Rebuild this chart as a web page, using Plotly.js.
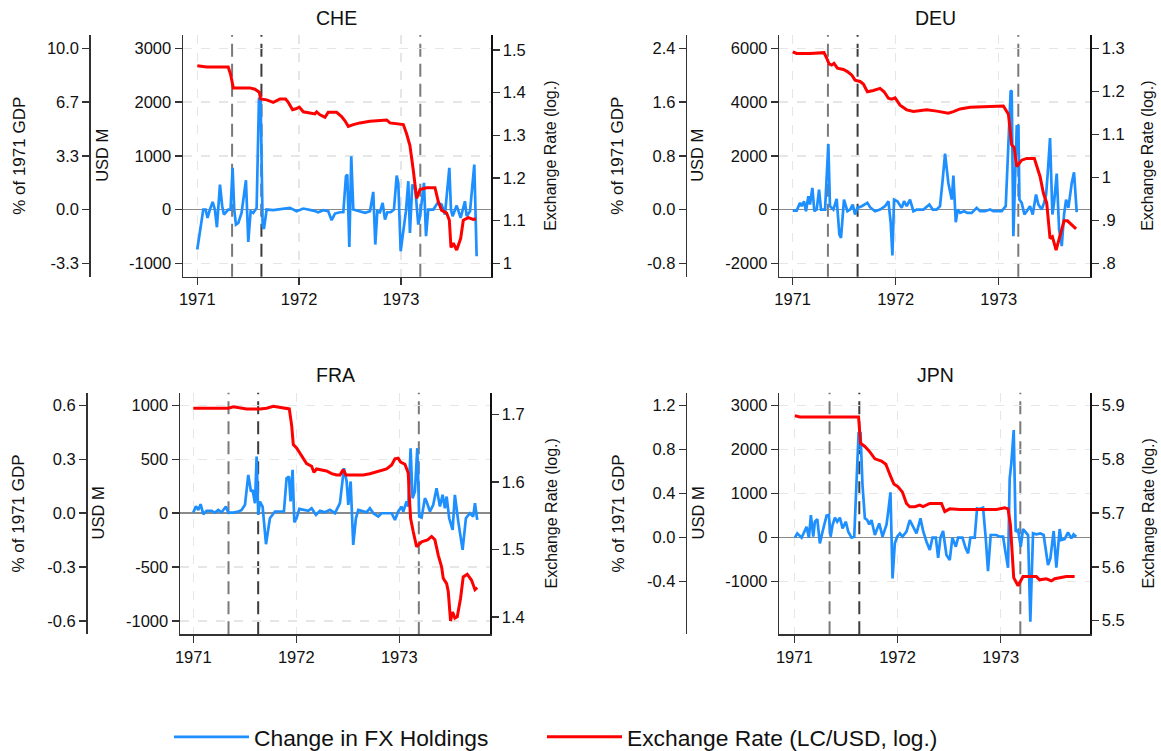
<!DOCTYPE html>
<html><head><meta charset="utf-8">
<script src="https://cdn.plot.ly/plotly-3.0.1.min.js"></script>
<style>html,body{margin:0;padding:0;background:#fff}#chart{width:1161px;height:751px}</style>
</head><body><div id="chart"></div>
<script>
// ---------- DATA ----------
const countries = ["CHE", "DEU", "FRA", "JPN"];
const yearTicks = [1971, 1972, 1973];
const yearLabels = ["1971", "1972", "1973"];
const eventDates = [1971.342, 1971.63, 1973.19];
const seriesNames = ["Change in FX Holdings", "Exchange Rate (LC/USD, log.)"];

// CHE
const cheFxT = [1971.000,1971.026,1971.059,1971.082,1971.101,1971.124,1971.151,1971.173,1971.193,1971.223,1971.245,1971.262,1971.304,1971.327,1971.347,1971.363,1971.380,1971.403,1971.435,1971.478,1971.501,1971.524,1971.550,1971.583,1971.606,1971.622,1971.642,1971.655,1971.681,1971.746,1971.812,1971.910,1971.975,1972.041,1972.139,1972.188,1972.237,1972.286,1972.319,1972.352,1972.401,1972.434,1972.460,1972.473,1972.493,1972.512,1972.532,1972.597,1972.647,1972.696,1972.728,1972.748,1972.768,1972.794,1972.820,1972.843,1972.866,1972.899,1972.931,1972.958,1972.974,1972.997,1973.023,1973.049,1973.072,1973.088,1973.111,1973.141,1973.170,1973.187,1973.226,1973.246,1973.268,1973.318,1973.360,1973.399,1973.432,1973.475,1973.491,1973.507,1973.547,1973.586,1973.628,1973.645,1973.678,1973.720,1973.743];
const cheFxV = [-744,-372,0,0,-155,0,143,0,-329,465,62,-93,0,0,775,0,-279,-248,-62,546,-601,-31,-62,31,2077,2046,-310,-360,0,-12,0,31,-31,19,-19,-50,-12,-31,-198,-74,-50,-50,620,651,-694,992,0,-31,-62,-31,329,-651,-31,-50,124,-186,-50,-50,0,632,496,-775,-372,-31,527,-434,465,372,-279,-124,496,-496,0,0,124,93,-93,775,0,-124,74,-155,155,-124,-31,837,-868];
const cheErT = [1971.000,1971.092,1971.304,1971.327,1971.354,1971.517,1971.566,1971.609,1971.622,1971.681,1971.746,1971.812,1971.867,1971.894,1971.936,1971.969,1972.002,1972.041,1972.106,1972.155,1972.172,1972.205,1972.254,1972.286,1972.368,1972.417,1972.450,1972.483,1972.532,1972.597,1972.696,1972.859,1972.892,1973.023,1973.056,1973.088,1973.121,1973.154,1973.187,1973.252,1973.334,1973.367,1973.400,1973.448,1973.475,1973.491,1973.514,1973.547,1973.586,1973.612,1973.661,1973.710,1973.736];
const cheErV = [1.463,1.460,1.460,1.443,1.411,1.411,1.408,1.401,1.385,1.383,1.377,1.385,1.385,1.377,1.360,1.362,1.366,1.355,1.352,1.350,1.355,1.348,1.342,1.354,1.354,1.344,1.334,1.321,1.325,1.329,1.333,1.336,1.329,1.325,1.303,1.276,1.218,1.152,1.173,1.177,1.177,1.144,1.124,1.118,1.101,1.037,1.047,1.031,1.058,1.101,1.107,1.103,1.104];
const cheUsdTicks = [-1000, 0, 1000, 2000, 3000];
const cheUsdLabels = ["-1000", "0", "1000", "2000", "3000"];
const cheGdpTicks = [-3.3333, 0, 3.3333, 6.6667, 10];
const cheGdpLabels = ["-3.3", "0.0", "3.3", "6.7", "10.0"];
const cheErTicks = [1, 1.1, 1.2, 1.3, 1.4, 1.5];
const cheErLabels = ["1", "1.1", "1.2", "1.3", "1.4", "1.5"];
const cheGdpPerUsd = 10 / 3000;

// DEU
const deuFxT = [1971.000,1971.039,1971.071,1971.087,1971.110,1971.129,1971.152,1971.168,1971.191,1971.210,1971.233,1971.256,1971.275,1971.314,1971.346,1971.362,1971.395,1971.427,1971.453,1971.469,1971.498,1971.531,1971.557,1971.583,1971.605,1971.628,1971.670,1971.725,1971.751,1971.799,1971.848,1971.896,1971.929,1971.951,1971.968,1971.984,1972.016,1972.058,1972.081,1972.107,1972.139,1972.172,1972.204,1972.269,1972.327,1972.359,1972.398,1972.430,1972.456,1972.479,1972.511,1972.544,1972.560,1972.583,1972.602,1972.625,1972.663,1972.696,1972.738,1972.786,1972.819,1972.867,1972.916,1972.948,1972.987,1973.029,1973.068,1973.094,1973.116,1973.126,1973.142,1973.159,1973.175,1973.191,1973.201,1973.223,1973.249,1973.272,1973.304,1973.330,1973.362,1973.385,1973.417,1973.440,1973.460,1973.476,1973.498,1973.521,1973.537,1973.563,1973.586,1973.612,1973.634,1973.654,1973.676,1973.709,1973.731,1973.757];
const deuFxV = [-37,-37,247,124,309,-62,495,186,804,-62,0,742,0,0,2437,124,0,396,-928,-1051,371,-62,0,186,-186,62,124,247,87,-62,0,124,309,-470,-1707,371,309,62,309,124,371,-62,0,0,186,0,0,124,1113,2078,990,371,1262,-470,0,-124,-62,-124,-124,62,-62,-62,0,-62,-62,-62,124,2598,4429,4391,-990,1175,3093,3093,371,247,-186,-62,124,-186,557,186,0,247,557,1361,2660,-186,247,1336,-742,-1361,-186,371,62,990,1386,-99];
const deuErT = [1971.000,1971.039,1971.168,1971.304,1971.330,1971.353,1971.379,1971.401,1971.434,1971.492,1971.531,1971.573,1971.605,1971.654,1971.686,1971.725,1971.783,1971.848,1971.887,1971.929,1971.961,1971.994,1972.042,1972.107,1972.172,1972.236,1972.301,1972.398,1972.479,1972.511,1972.560,1972.625,1972.722,1972.819,1972.948,1973.045,1973.094,1973.126,1973.149,1973.175,1973.223,1973.272,1973.346,1973.401,1973.434,1973.466,1973.498,1973.521,1973.557,1973.595,1973.634,1973.667,1973.709,1973.751];
const deuErV = [1.292,1.288,1.288,1.290,1.277,1.264,1.261,1.265,1.254,1.251,1.246,1.238,1.226,1.223,1.217,1.199,1.202,1.207,1.199,1.184,1.182,1.185,1.168,1.157,1.153,1.155,1.157,1.154,1.150,1.149,1.153,1.159,1.163,1.164,1.164,1.166,1.147,1.075,1.070,1.025,1.040,1.044,1.044,1.002,0.963,0.940,0.858,0.862,0.831,0.862,0.899,0.899,0.889,0.880];
const deuUsdTicks = [-2000, 0, 2000, 4000, 6000];
const deuUsdLabels = ["-2000", "0", "2000", "4000", "6000"];
const deuGdpTicks = [-0.8, 0, 0.8, 1.6, 2.4];
const deuGdpLabels = ["-0.8", "0.0", "0.8", "1.6", "2.4"];
const deuErTicks = [0.8, 0.9, 1, 1.1, 1.2, 1.3];
const deuErLabels = [".8", ".9", "1", "1.1", "1.2", "1.3"];
const deuGdpPerUsd = 2.4 / 6000;

// FRA
const fraFxT = [1971.000,1971.026,1971.049,1971.071,1971.097,1971.129,1971.178,1971.210,1971.243,1971.275,1971.317,1971.340,1971.388,1971.437,1971.469,1971.502,1971.534,1971.560,1971.576,1971.599,1971.615,1971.631,1971.647,1971.673,1971.706,1971.744,1971.793,1971.841,1971.880,1971.906,1971.929,1971.945,1971.964,1971.981,1972.003,1972.029,1972.068,1972.117,1972.149,1972.191,1972.230,1972.278,1972.327,1972.375,1972.424,1972.463,1972.489,1972.505,1972.528,1972.553,1972.579,1972.602,1972.634,1972.683,1972.715,1972.748,1972.796,1972.828,1972.877,1972.926,1972.958,1972.990,1973.023,1973.039,1973.071,1973.087,1973.110,1973.129,1973.152,1973.175,1973.194,1973.217,1973.249,1973.265,1973.298,1973.330,1973.362,1973.395,1973.421,1973.443,1973.460,1973.485,1973.518,1973.540,1973.573,1973.615,1973.647,1973.686,1973.718,1973.735,1973.757];
const fraFxV = [6,65,31,84,-9,22,22,6,31,9,62,6,6,15,31,78,357,202,217,93,527,-16,109,62,-288,-47,16,16,16,326,341,109,403,-84,-47,40,31,22,47,-16,22,9,31,0,93,419,295,78,295,-295,-47,31,22,9,47,0,-31,0,0,0,-62,16,62,16,109,62,605,140,202,605,-31,-40,140,109,16,78,233,62,171,47,155,-47,-155,171,-78,-341,-47,0,-31,93,-62];
const fraErT = [1971.000,1971.129,1971.259,1971.340,1971.388,1971.453,1971.518,1971.647,1971.712,1971.777,1971.841,1971.906,1971.932,1971.955,1971.971,1972.003,1972.036,1972.068,1972.100,1972.149,1972.171,1972.197,1972.246,1972.294,1972.343,1972.392,1972.424,1972.456,1972.482,1972.553,1972.650,1972.715,1972.764,1972.812,1972.877,1972.926,1972.958,1972.990,1973.013,1973.055,1973.087,1973.097,1973.110,1973.136,1973.168,1973.217,1973.275,1973.314,1973.346,1973.379,1973.411,1973.427,1973.460,1973.476,1973.498,1973.518,1973.540,1973.563,1973.595,1973.621,1973.660,1973.702,1973.735,1973.757];
const fraErV = [1.709,1.709,1.709,1.709,1.711,1.709,1.708,1.708,1.709,1.712,1.710,1.709,1.708,1.684,1.655,1.650,1.642,1.634,1.627,1.623,1.614,1.619,1.618,1.616,1.612,1.610,1.610,1.618,1.610,1.610,1.610,1.612,1.614,1.616,1.619,1.625,1.634,1.635,1.629,1.626,1.613,1.580,1.546,1.526,1.504,1.511,1.514,1.519,1.514,1.491,1.474,1.457,1.449,1.437,1.394,1.407,1.398,1.400,1.427,1.459,1.463,1.454,1.440,1.443];
const fraUsdTicks = [-1000, -500, 0, 500, 1000];
const fraUsdLabels = ["-1000", "-500", "0", "500", "1000"];
const fraGdpTicks = [-0.6, -0.3, 0, 0.3, 0.6];
const fraGdpLabels = ["-0.6", "-0.3", "0.0", "0.3", "0.6"];
const fraErTicks = [1.4, 1.5, 1.6, 1.7];
const fraErLabels = ["1.4", "1.5", "1.6", "1.7"];
const fraGdpPerUsd = 0.6 / 1000;

// JPN
const jpnFxT = [1971.006,1971.029,1971.071,1971.119,1971.142,1971.161,1971.184,1971.200,1971.223,1971.248,1971.274,1971.313,1971.335,1971.352,1971.371,1971.394,1971.416,1971.442,1971.468,1971.500,1971.523,1971.555,1971.581,1971.610,1971.623,1971.642,1971.661,1971.684,1971.706,1971.726,1971.748,1971.781,1971.803,1971.823,1971.855,1971.894,1971.910,1971.932,1971.952,1971.974,1971.997,1972.023,1972.048,1972.087,1972.119,1972.158,1972.184,1972.223,1972.248,1972.281,1972.313,1972.339,1972.371,1972.394,1972.416,1972.442,1972.474,1972.506,1972.532,1972.565,1972.587,1972.629,1972.661,1972.684,1972.706,1972.748,1972.771,1972.797,1972.829,1972.855,1972.877,1972.903,1972.958,1972.990,1973.023,1973.048,1973.071,1973.087,1973.103,1973.126,1973.145,1973.168,1973.194,1973.216,1973.248,1973.265,1973.287,1973.313,1973.345,1973.384,1973.416,1973.458,1973.481,1973.513,1973.539,1973.571,1973.587,1973.619,1973.652,1973.684,1973.706,1973.732];
const jpnFxV = [0,98,0,250,0,515,23,364,424,-129,136,500,515,23,288,455,364,455,212,364,136,0,23,1576,2371,2371,1197,439,402,303,402,61,212,326,23,303,591,1030,-924,-129,23,98,23,136,401,212,98,439,152,-91,-280,0,0,-455,0,152,-394,-508,0,-205,0,0,-242,-356,0,0,667,652,682,-15,-758,61,61,23,23,-356,-682,1349,1690,2447,136,174,-205,197,98,61,-1909,98,76,98,61,-621,-470,152,-682,197,-53,-30,121,-15,76,23];
const jpnErT = [1971.006,1971.055,1971.313,1971.623,1971.642,1971.684,1971.732,1971.781,1971.845,1971.887,1971.926,1971.965,1972.006,1972.048,1972.087,1972.119,1972.168,1972.216,1972.248,1972.313,1972.426,1972.458,1972.506,1972.603,1972.765,1972.958,1973.039,1973.071,1973.094,1973.126,1973.168,1973.216,1973.345,1973.377,1973.442,1973.490,1973.523,1973.571,1973.635,1973.716];
const jpnErV = [5.881,5.879,5.879,5.879,5.830,5.824,5.814,5.801,5.797,5.791,5.772,5.754,5.749,5.739,5.718,5.712,5.712,5.715,5.712,5.718,5.718,5.703,5.708,5.707,5.707,5.707,5.710,5.708,5.678,5.580,5.565,5.582,5.582,5.576,5.578,5.574,5.578,5.580,5.582,5.582];
const jpnUsdTicks = [-1000, 0, 1000, 2000, 3000];
const jpnUsdLabels = ["-1000", "0", "1000", "2000", "3000"];
const jpnGdpTicks = [-0.4, 0, 0.4, 0.8, 1.2];
const jpnGdpLabels = ["-0.4", "0.0", "0.4", "0.8", "1.2"];
const jpnErTicks = [5.5, 5.6, 5.7, 5.8, 5.9];
const jpnErLabels = ["5.5", "5.6", "5.7", "5.8", "5.9"];
const jpnGdpPerUsd = 1.2 / 3000;

// ---------- LAYOUT CONFIG (pixel positions) ----------
const W = 1161, H = 751;
const panels = [
  {name: countries[0], fxT: cheFxT, fxV: cheFxV, erT: cheErT, erV: cheErV,
   usdT: cheUsdTicks, usdL: cheUsdLabels, gdpT: cheGdpTicks, gdpL: cheGdpLabels, erTk: cheErTicks, erL: cheErLabels, k: cheGdpPerUsd,
   px: [183, 491], py: [35, 276.7], xr: [1970.860, 1973.884], ur: [-1249, 3247], er: [0.9686, 1.535],
   gdpX: 89.3, gdpTitleX: 20, usdTitleX: 102, erTitleX: 551, titleX: 336, titleY: 18},
  {name: countries[1], fxT: deuFxT, fxV: deuFxV, erT: deuErT, erV: deuErV,
   usdT: deuUsdTicks, usdL: deuUsdLabels, gdpT: deuGdpTicks, gdpL: deuGdpLabels, erTk: deuErTicks, erL: deuErLabels, k: deuGdpPerUsd,
   px: [779.3, 1090], py: [35, 276.7], xr: [1970.870, 1973.886], ur: [-2499, 6495], er: [0.769, 1.331],
   gdpX: 685.7, gdpTitleX: 618, usdTitleX: 697, erTitleX: 1148, titleX: 935, titleY: 18},
  {name: countries[2], fxT: fraFxT, fxV: fraFxV, erT: fraErT, erV: fraErV,
   usdT: fraUsdTicks, usdL: fraUsdLabels, gdpT: fraGdpTicks, gdpL: fraGdpLabels, erTk: fraErTicks, erL: fraErLabels, k: fraGdpPerUsd,
   px: [180, 490], py: [392.7, 634.3], xr: [1970.871, 1973.881], ur: [-1126, 1121], er: [1.374, 1.732],
   gdpX: 86, gdpTitleX: 18, usdTitleX: 97, erTitleX: 551, titleX: 335, titleY: 375},
  {name: countries[3], fxT: jpnFxT, fxV: jpnFxV, erT: jpnErT, erV: jpnErV,
   usdT: jpnUsdTicks, usdL: jpnUsdLabels, gdpT: jpnGdpTicks, gdpL: jpnGdpLabels, erTk: jpnErTicks, erL: jpnErLabels, k: jpnGdpPerUsd,
   px: [779.3, 1090], py: [392.7, 634.3], xr: [1970.855, 1973.865], ur: [-2195, 3295], er: [5.4747, 5.924],
   gdpX: 685.7, gdpTitleX: 618, usdTitleX: 697, erTitleX: 1148, titleX: 935, titleY: 375}
];

const FONT = "Liberation Sans, Arial, Helvetica, sans-serif";
const BLUE = "#1E8FFF", RED = "#FF0000";
const AXC = "#333333";
const tickFont = {family: FONT, size: 16.5, color: "#111"};
const fx = p => p / W;
const fy = p => 1 - p / H;
const legendFont = {family: FONT, size: 22.8, color: "#111"};

const data = [];
const layout = {
  width: W, height: H,
  margin: {l: 0, r: 0, t: 0, b: 0, autoexpand: false},
  paper_bgcolor: "#fff", plot_bgcolor: "#fff",
  font: {family: FONT, color: "#111"},
  showlegend: true,
  legend: {orientation: "h", x: fx(169), xanchor: "left", y: fy(737), yanchor: "middle",
           font: legendFont, itemwidth: 75, bgcolor: "rgba(0,0,0,0)"},
  legend2: {orientation: "h", x: fx(542), xanchor: "left", y: fy(737), yanchor: "middle",
           font: legendFont, itemwidth: 75, bgcolor: "rgba(0,0,0,0)"},
  shapes: [], annotations: []
};

panels.forEach((p, i) => {
  const xn = i + 1;
  const xId = xn === 1 ? "x" : "x" + xn;
  const xKey = xn === 1 ? "xaxis" : "xaxis" + xn;
  const nU = 3 * i + 1, nE = 3 * i + 2, nG = 3 * i + 3;
  const yU = nU === 1 ? "y" : "y" + nU;
  const yUKey = nU === 1 ? "yaxis" : "yaxis" + nU;
  const yE = "y" + nE, yG = "y" + nG;

  data.push({type: "scatter", mode: "lines", x: p.fxT, y: p.fxV, xaxis: xId, yaxis: yU,
             name: seriesNames[0], legend: "legend", legendgroup: "fx", showlegend: i === 0,
             line: {color: BLUE, width: 2.7}, hoverinfo: "skip"});
  data.push({type: "scatter", mode: "lines", x: p.erT, y: p.erV, xaxis: xId, yaxis: yE,
             name: seriesNames[1], legend: "legend2", legendgroup: "er", showlegend: i === 0,
             line: {color: RED, width: 3}, hoverinfo: "skip"});
  // empty helper trace so the "% of 1971 GDP" axis is created
  data.push({type: "scatter", mode: "lines", x: [null], y: [null], xaxis: xId, yaxis: yG,
             showlegend: false, hoverinfo: "skip", line: {width: 0}});

  layout[xKey] = {
    domain: [fx(p.px[0]), fx(p.px[1])], anchor: yU, range: p.xr, automargin: false,
    tickvals: yearTicks, ticktext: yearLabels, ticks: "outside", ticklen: 7, tickwidth: 1.5, tickcolor: AXC,
    showline: true, linecolor: AXC, linewidth: 1.5, zeroline: false,
    showgrid: true, gridcolor: "#e6e6e6", gridwidth: 1.5, griddash: "dash",
    tickfont: tickFont
  };
  layout[yUKey] = {
    domain: [fy(p.py[1]), fy(p.py[0])], anchor: xId, side: "left", range: p.ur, automargin: false,
    tickvals: p.usdT, ticktext: p.usdL, ticks: "outside", ticklen: 7, tickwidth: 1.5, tickcolor: AXC,
    showline: true, linecolor: AXC, linewidth: 1.5,
    showgrid: true, gridcolor: "#e6e6e6", gridwidth: 1.5, griddash: "dash",
    zeroline: true, zerolinecolor: "#8a8a8a", zerolinewidth: 1.5,
    tickfont: tickFont
  };
  layout["yaxis" + nE] = {
    overlaying: yU, anchor: xId, side: "right", range: p.er, automargin: false,
    tickvals: p.erTk, ticktext: p.erL, ticks: "outside", ticklen: 7, tickwidth: 1.5, tickcolor: AXC,
    showline: true, linecolor: "#111", linewidth: 1.5, showgrid: false, zeroline: false,
    tickfont: tickFont
  };
  layout["yaxis" + nG] = {
    overlaying: yU, anchor: "free", position: fx(p.gdpX), side: "left",
    range: [p.ur[0] * p.k, p.ur[1] * p.k], automargin: false,
    tickvals: p.gdpT, ticktext: p.gdpL, ticks: "outside", ticklen: 7, tickwidth: 1.5, tickcolor: AXC,
    showline: true, linecolor: AXC, linewidth: 1.5, showgrid: false, zeroline: false,
    tickfont: tickFont
  };

  eventDates.forEach((d, j) => {
    layout.shapes.push({type: "line", xref: xId, yref: yU + " domain", x0: d, x1: d, y0: 0, y1: 1,
      layer: "below", line: {color: j === 1 ? "#3c3c3c" : "#7a7a7a", width: 2, dash: "13px,7px"}});
  });

  const midY = (p.py[0] + p.py[1]) / 2;
  layout.annotations.push({text: p.name, xref: "paper", yref: "paper", x: fx(p.titleX), y: fy(p.titleY),
    xanchor: "center", yanchor: "middle", showarrow: false, font: {family: FONT, size: 19.5, color: "#111"}});
  layout.annotations.push({text: "% of 1971 GDP", xref: "paper", yref: "paper", x: fx(p.gdpTitleX), y: fy(midY),
    xanchor: "center", yanchor: "middle", textangle: -90, showarrow: false, font: {family: FONT, size: 17, color: "#111"}});
  layout.annotations.push({text: "USD M", xref: "paper", yref: "paper", x: fx(p.usdTitleX), y: fy(midY),
    xanchor: "center", yanchor: "middle", textangle: -90, showarrow: false, font: {family: FONT, size: 16.5, color: "#111"}});
  layout.annotations.push({text: "Exchange Rate (log.)", xref: "paper", yref: "paper", x: fx(p.erTitleX), y: fy(midY),
    xanchor: "center", yanchor: "middle", textangle: -90, showarrow: false, font: {family: FONT, size: 16, color: "#111"}});
});

Plotly.newPlot("chart", data, layout, {displayModeBar: false, staticPlot: true});
</script>
</body></html>
